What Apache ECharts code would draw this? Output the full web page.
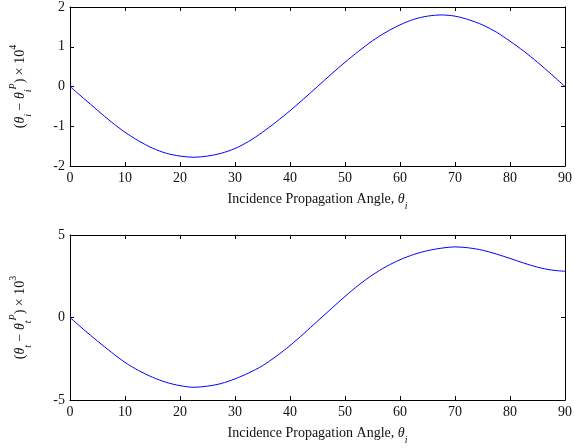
<!DOCTYPE html>
<html>
<head>
<meta charset="utf-8">
<script src="https://cdn.jsdelivr.net/npm/echarts@6/dist/echarts.min.js"></script>
<style>html,body{margin:0;padding:0;background:#fff;}#c{width:575px;height:448px;}</style>
</head>
<body>
<div id="c"></div>
<script>
// Incidence angle (degrees)
var angles = [0, 2.5, 5, 7.5, 10, 12.5, 15, 17.5, 20, 22.5, 25, 27.5, 30, 32.5, 35, 37.5, 40, 42.5, 45,
              47.5, 50, 52.5, 55, 57.5, 60, 62.5, 65, 67.5, 70, 72.5, 75, 77.5, 80, 82.5, 85, 87.5, 90];
// (theta_i - theta_i^P) x 10^4
var topValues = [0, -0.30, -0.60, -0.89, -1.15, -1.37, -1.55, -1.68, -1.75, -1.78, -1.75, -1.68, -1.56, -1.38, -1.15, -0.89, -0.61, -0.31, 0,
                 0.31, 0.61, 0.89, 1.15, 1.37, 1.55, 1.69, 1.77, 1.80, 1.77, 1.68, 1.55, 1.37, 1.14, 0.89, 0.61, 0.31, 0];
// (theta_t - theta_t^P) x 10^3
var botValues = [0, -0.73, -1.43, -2.10, -2.72, -3.22, -3.62, -3.93, -4.13, -4.23, -4.16, -4.00, -3.72, -3.36, -2.92, -2.35, -1.70, -0.98, -0.22,
                 0.53, 1.28, 1.97, 2.58, 3.09, 3.50, 3.82, 4.05, 4.20, 4.28, 4.22, 4.08, 3.85, 3.58, 3.30, 3.05, 2.88, 2.80];
var xTicks = [0, 10, 20, 30, 40, 50, 60, 70, 80, 90];
var topYTicks = [-2, -1, 0, 1, 2];
var botYTicks = [-5, 0, 5];
var xTitle = 'Incidence Propagation Angle, ';

var chart = echarts.init(document.getElementById('c'), null, {renderer: 'canvas'});
var FONT = '"Liberation Serif", "DejaVu Serif", serif';
var AX = '#000';

function pairs(xs, ys) { return xs.map(function (x, i) { return [x, ys[i]]; }); }

var richX = {
  b: {fontFamily: FONT, fontSize: 14, color: '#111', lineHeight: 18, verticalAlign: 'middle'},
  it: {fontFamily: FONT, fontSize: 14, fontStyle: 'italic', color: '#111', lineHeight: 18},
  sub: {fontFamily: FONT, fontSize: 10, fontStyle: 'italic', color: '#111', lineHeight: 18, verticalAlign: 'bottom', padding: [0, 0, -3, 0]}
};
var richY = {
  b: {fontFamily: FONT, fontSize: 14, color: '#111', lineHeight: 20},
  it: {fontFamily: FONT, fontSize: 14, fontStyle: 'italic', color: '#111', lineHeight: 20},
  sub: {fontFamily: FONT, fontSize: 10, fontStyle: 'italic', color: '#111', lineHeight: 20, verticalAlign: 'bottom', padding: [0, 0, -3, 0]},
  sup: {fontFamily: FONT, fontSize: 10, fontStyle: 'italic', color: '#111', lineHeight: 20, verticalAlign: 'top', padding: [-2, 0, 0, 0]},
  supn: {fontFamily: FONT, fontSize: 10, color: '#111', lineHeight: 20, verticalAlign: 'top', padding: [-2, 0, 0, 0]}
};

function mainX(gi) {
  return {
    type: 'value', gridIndex: gi, min: 0, max: 90, interval: 10, position: 'bottom',
    axisLine: {onZero: false, lineStyle: {color: AX, width: 1}},
    axisTick: {inside: true, length: 4, lineStyle: {color: AX}},
    axisLabel: {fontFamily: FONT, fontSize: 14, color: '#111', margin: 5,
      formatter: function (v) { return xTicks.indexOf(v) >= 0 ? String(v) : ''; }},
    splitLine: {show: false},
    name: '{b|' + xTitle + '}{it|θ}{sub|i}', nameLocation: 'middle', nameGap: 24,
    nameTextStyle: {rich: richX}
  };
}
function topX(gi) {
  return {
    type: 'value', gridIndex: gi, min: 0, max: 90, interval: 10, position: 'top',
    axisLine: {onZero: false, lineStyle: {color: AX, width: 1}},
    axisTick: {inside: true, length: 4, lineStyle: {color: AX}},
    axisLabel: {show: false}, splitLine: {show: false}
  };
}
function leftY(gi, mn, mx, iv, ticks, nameStr) {
  return {
    type: 'value', gridIndex: gi, min: mn, max: mx, interval: iv, position: 'left',
    axisLine: {onZero: false, lineStyle: {color: AX, width: 1}},
    axisTick: {inside: true, length: 4, lineStyle: {color: AX}},
    axisLabel: {fontFamily: FONT, fontSize: 14, color: '#111', margin: 5,
      formatter: function (v) { return ticks.indexOf(v) >= 0 ? String(v) : ''; }},
    splitLine: {show: false},
    name: nameStr, nameLocation: 'middle', nameGap: 40, nameRotate: 90,
    nameTextStyle: {rich: richY}
  };
}
function rightY(gi, mn, mx, iv) {
  return {
    type: 'value', gridIndex: gi, min: mn, max: mx, interval: iv, position: 'right',
    axisLine: {onZero: false, lineStyle: {color: AX, width: 1}},
    axisTick: {inside: true, length: 4, lineStyle: {color: AX}},
    axisLabel: {show: false}, splitLine: {show: false}
  };
}

var option = {
  animation: false,
  backgroundColor: '#fff',
  grid: [
    {left: 67.5, right: 6, top: 5, height: 161},
    {left: 67.5, right: 6, top: 235, height: 165}
  ],
  xAxis: [mainX(0), topX(0), mainX(1), topX(1)],
  yAxis: [
    leftY(0, -2, 2, 1, topYTicks, '{b|(}{it|θ}{sub|i}{b| − }{it|θ}{sub|i}{sup|P}{b|) × 10}{supn|4}'),
    rightY(0, -2, 2, 1),
    leftY(1, -5, 5, 5, botYTicks, '{b|(}{it|θ}{sub|t}{b| − }{it|θ}{sub|t}{sup|P}{b|) × 10}{supn|3}'),
    rightY(1, -5, 5, 5)
  ],
  series: [
    {type: 'line', xAxisIndex: 0, yAxisIndex: 0, data: pairs(angles, topValues), smooth: 0.3,
      showSymbol: false, lineStyle: {color: '#0000ff', width: 1}, silent: true},
    {type: 'line', xAxisIndex: 2, yAxisIndex: 2, data: pairs(angles, botValues), smooth: 0.3,
      showSymbol: false, lineStyle: {color: '#0000ff', width: 1}, silent: true}
  ]
};
chart.setOption(option);
</script>
</body>
</html>
